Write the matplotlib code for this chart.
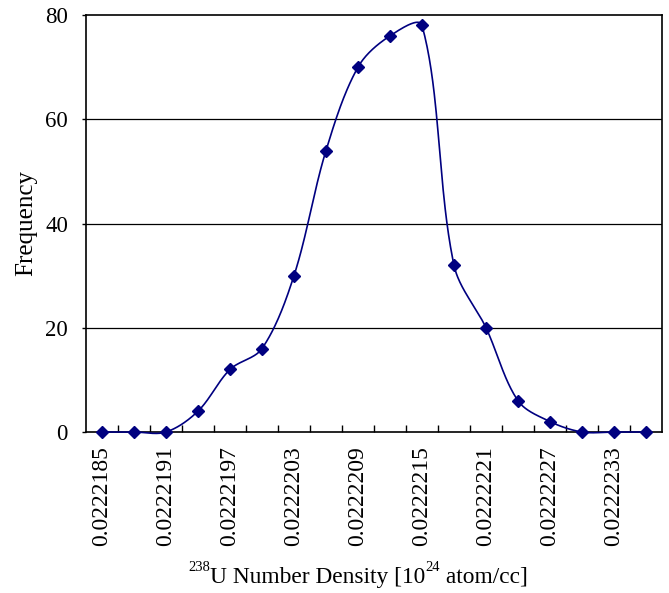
import numpy as np
import matplotlib.pyplot as plt

plt.rcParams['font.family'] = ['Liberation Serif', 'DejaVu Serif']

# 数密度 (カテゴリ)
density = ['0.0222185', '0.0222188', '0.0222191', '0.0222194', '0.0222197',
           '0.0222200', '0.0222203', '0.0222206', '0.0222209', '0.0222212',
           '0.0222215', '0.0222218', '0.0222221', '0.0222224', '0.0222227',
           '0.0222230', '0.0222233', '0.0222236']
# 頻度
freq = [0, 0, 0, 4, 12, 16, 30, 54, 70, 76, 78, 32, 20, 6, 2, 0, 0, 0]

x = np.arange(len(freq), dtype=float)
y = np.array(freq, dtype=float)

# Excel風スムージング (画面座標で制御点を計算)
kx, ky = 32.0, 417.0 / 80.0
P = np.column_stack([x * kx, y * ky])
n = len(P)
cin = P.copy()
cout = P.copy()
for i in range(1, n - 1):
    T = P[i+1] - P[i-1]
    dp = np.linalg.norm(P[i] - P[i-1])
    dn = np.linalg.norm(P[i+1] - P[i])
    cin[i] = P[i] - T * dp / (dp + dn) / 3
    cout[i] = P[i] + T * dn / (dp + dn) / 3
t = np.linspace(0, 1, 40)[:, None]
seg = []
for i in range(n - 1):
    b = (1-t)**3*P[i] + 3*(1-t)**2*t*cout[i] + 3*(1-t)*t**2*cin[i+1] + t**3*P[i+1]
    seg.append(b)
seg = np.vstack(seg)
sx, sy = seg[:, 0] / kx, seg[:, 1] / ky

fig = plt.figure(figsize=(6.69, 5.93), dpi=100)
ax = fig.add_axes([86/669, 1-432/593, 576/669, 417/593])

for g in [20, 40, 60]:
    ax.axhline(g, color='black', lw=0.9, zorder=1)

ax.plot(sx, sy, color='#000080', lw=1.2, zorder=3, clip_on=False)
ax.plot(x, y, linestyle='none', marker='D', ms=6.5, color='#000080', zorder=4, clip_on=False)

ax.set_xlim(-0.5, len(freq) - 0.5)
ax.set_ylim(0, 80)
ax.set_yticks([0, 20, 40, 60, 80])
ax.tick_params(axis='y', direction='out', length=3, labelsize=16.5, width=1, pad=10)

ax.set_xticks(x[::2])
ax.set_xticklabels(density[::2], rotation=90, fontsize=17)
ax.tick_params(axis='x', which='major', length=0, pad=10)
ax.set_xticks(np.arange(0.5, len(freq) - 0.5), minor=True)
ax.tick_params(axis='x', which='minor', direction='in', length=5, width=1)

for s in ax.spines.values():
    s.set_linewidth(1.2)

ax.set_ylabel('Frequency', fontsize=18)
ax.yaxis.set_label_coords(-(86 - 37) / 576, 0.5)

# x軸ラベル (上付き文字を小さく)
parts = [('238', 10.5, 12), ('U Number Density [10', 16.8, 0), ('24', 10.5, 12), (' atom/cc]', 16.8, 0)]
fig.canvas.draw()
r = fig.canvas.get_renderer()
xpos = 188
for txt, fs, rise in parts:
    tt = fig.text(xpos / 669, 1 - (583 - rise) / 593, txt, fontsize=fs,
                  va='baseline', ha='left')
    xpos += tt.get_window_extent(r).width

fig.savefig('out.png', dpi=100)
